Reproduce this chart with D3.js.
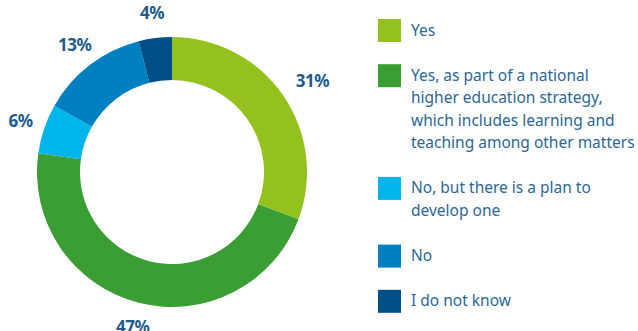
<!DOCTYPE html>
<html>
<head>
<meta charset="utf-8">
<script src="https://cdn.jsdelivr.net/npm/d3@7"></script>
<style>
  body { margin: 0; background: #fff; }
  svg { display: block; }
</style>
</head>
<body>
<div id="chartDiv"></div>
<script>
var categories = ["Yes", "Yes, as part of a national higher education strategy, which includes learning and teaching among other matters", "No, but there is a plan to develop one", "No", "I do not know"];
var legendLines = [
    ["Yes"],
    ["Yes, as part of a national", "higher education strategy,", "which includes learning and", "teaching among other matters"],
    ["No, but there is a plan to", "develop one"],
    ["No"],
    ["I do not know"]
];
var values = [31, 47, 6, 13, 4];
var colors = ["#95c11f", "#3a9e34", "#00b5ec", "#0080c1", "#004f86"];

var swidth = 638, sheight = 331;
var cx = 172, cy = 172, outerR = 135, innerR = 92, labelR = 160;

var svg = d3.select("#chartDiv")
    .append("svg")
    .attr("width", swidth)
    .attr("height", sheight);

var pie = d3.pie().sort(null).value(function(d) { return d; });
var arcs = pie(values);
var arc = d3.arc().innerRadius(innerR).outerRadius(outerR);
var labelArc = d3.arc().innerRadius(labelR).outerRadius(labelR);

var g = svg.append("g")
    .attr("transform", "translate(" + cx + "," + cy + ")");

g.selectAll(".slice")
    .data(arcs)
    .enter().append("path")
    .attr("class", "slice")
    .attr("d", arc)
    .attr("fill", function(d, i) { return colors[i]; });

g.selectAll(".lbl")
    .data(arcs)
    .enter().append("text")
    .attr("class", "lbl")
    .attr("transform", function(d) {
        var c = labelArc.centroid(d);
        // the wide label on the right sits a little further out
        if (c[0] > 60) c[0] += 9;
        return "translate(" + c[0] + "," + c[1] + ")";
    })
    .attr("dy", "0.36em")
    .attr("text-anchor", "middle")
    .style("font-family", "'Noto Sans', sans-serif")
    .style("font-weight", "bold")
    .style("font-size", "17px")
    .style("letter-spacing", "-0.5px")
    .attr("fill", "#1d5b8d")
    .text(function(d) { return d.data + "%"; });

// legend
var lineH = 22.5, gap = 22.7;
var yPos = 19, tops = [];
legendLines.forEach(function(l) { tops.push(yPos); yPos += l.length * lineH + gap; });

var leg = svg.append("g").attr("transform", "translate(378,0)");
var items = leg.selectAll(".item")
    .data(categories)
    .enter().append("g")
    .attr("class", "item")
    .attr("transform", function(d, i) { return "translate(0," + tops[i] + ")"; });

items.append("rect")
    .attr("width", 23)
    .attr("height", 23)
    .attr("fill", function(d, i) { return colors[i]; });

items.each(function(d, i) {
    var t = d3.select(this).append("text")
        .attr("x", 33)
        .attr("y", 16.5)
        .style("font-family", "'Noto Sans', sans-serif")
        .style("font-size", "15.5px")
        .attr("fill", "#2c6796");
    legendLines[i].forEach(function(line, j) {
        t.append("tspan").attr("x", 33).attr("dy", j === 0 ? 0 : lineH).text(line);
    });
});
</script>
</body>
</html>
